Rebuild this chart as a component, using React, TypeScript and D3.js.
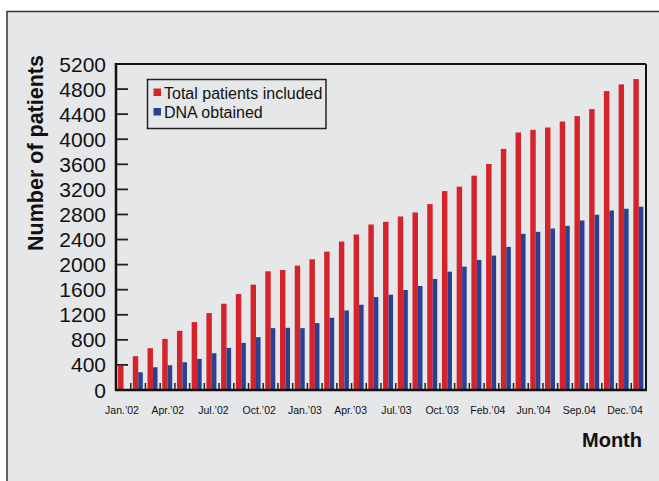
import React from "react";
import * as d3 from "d3";

const months: string[] = [
  "2002-01","2002-02","2002-03","2002-04","2002-05","2002-06","2002-07","2002-08","2002-09","2002-10","2002-11","2002-12",
  "2003-01","2003-02","2003-03","2003-04","2003-05","2003-06","2003-07","2003-08","2003-09","2003-10","2003-11","2003-12",
  "2004-01","2004-02","2004-03","2004-04","2004-05","2004-06","2004-07","2004-08","2004-09","2004-10","2004-11","2004-12",
];

const totalPatients: number[] = [
  384, 539, 667, 816, 944, 1083, 1227, 1376, 1531, 1680, 1893, 1915,
  1984, 2085, 2208, 2368, 2480, 2640, 2683, 2768, 2832, 2965, 3173, 3243,
  3419, 3605, 3845, 4107, 4149, 4187, 4283, 4368, 4480, 4768, 4875, 4960,
];

const dnaObtained: number[] = [
  0, 283, 363, 395, 443, 496, 587, 672, 752, 843, 987, 992,
  987, 1067, 1152, 1269, 1360, 1483, 1520, 1595, 1659, 1771, 1888, 1968,
  2075, 2144, 2283, 2491, 2523, 2576, 2619, 2704, 2795, 2864, 2891, 2923,
];

const xTickLabels: string[] = [
  "Jan.\u201902", "Apr.\u201902", "Jul.\u201902", "Oct.\u201902", "Jan.\u201903", "Apr.\u201903",
  "Jul.\u201903", "Oct.\u201903", "Feb.\u201904", "Jun.\u201904", "Sep.04", "Dec.\u201904",
];

const yTicks: number[] = d3.range(0, 5201, 400);

const seriesNames: string[] = ["Total patients included", "DNA obtained"];

const RED = "#d4232b";
const BLUE = "#2b4190";

export default function App() {
  const W = 659, H = 481;
  const left = 116, right = 646, top = 64, bottom = 390;

  const x = d3.scaleBand<string>().domain(months).range([left, right]).paddingInner(0).paddingOuter(0);
  const y = d3.scaleLinear().domain([0, 5200]).range([bottom, top]);
  const bw = x.bandwidth();
  const labelX = d3.scalePoint<string>().domain(xTickLabels).range([122, 625]);

  return (
    <svg width={W} height={H} style={{ position: "absolute", left: 0, top: 0 }} fontFamily="'Liberation Sans', Arial, sans-serif">
      <rect x={0} y={0} width={W} height={H} fill="#ffffff" />
      <rect x={7} y={11.5} width={W + 20} height={H + 20} fill="#e6e7e9" stroke="#333" strokeWidth={1.5} />

      {/* bars */}
      {months.map((m, i) => {
        const x0 = x(m) as number;
        return (
          <g key={m}>
            {totalPatients[i] > 0 && (
              <rect x={x0 + bw * 0.14} width={bw * 0.37} y={y(totalPatients[i])} height={y(0) - y(totalPatients[i])} fill={RED} />
            )}
            {dnaObtained[i] > 0 && (
              <rect x={x0 + bw * 0.51} width={bw * 0.31} y={y(dnaObtained[i])} height={y(0) - y(dnaObtained[i])} fill={BLUE} />
            )}
          </g>
        );
      })}

      {/* x ticks between groups */}
      {months.slice(1).map((m) => {
        const xx = x(m) as number;
        return <line key={m} x1={xx} x2={xx} y1={bottom} y2={bottom - 7} stroke="#222" strokeWidth={1.5} />;
      })}

      {/* y ticks inward */}
      {yTicks.filter((t) => t > 0 && t < 5200).map((t) => (
        <line key={t} x1={left} x2={left + 12} y1={y(t)} y2={y(t)} stroke="#222" strokeWidth={1.8} />
      ))}

      {/* frame */}
      <line x1={left} x2={right} y1={top} y2={top} stroke="#111" strokeWidth={2} />
      <line x1={right} x2={right} y1={top} y2={bottom} stroke="#111" strokeWidth={2} />
      <line x1={left} x2={left} y1={top - 1} y2={bottom + 1} stroke="#111" strokeWidth={2.5} />
      <line x1={left - 1} x2={right + 1} y1={bottom} y2={bottom} stroke="#111" strokeWidth={2.5} />

      {/* y tick labels */}
      {yTicks.map((t) => (
        <text key={t} x={106} y={y(t)} dy="0.36em" textAnchor="end" fontSize={21} fill="#111">
          {t}
        </text>
      ))}

      {/* x tick labels */}
      {xTickLabels.map((l) => (
        <text key={l} x={labelX(l)} y={414} textAnchor="middle" fontSize={10.5} fill="#111">
          {l}
        </text>
      ))}

      {/* axis titles */}
      <text x={642} y={447} textAnchor="end" fontSize={20} fontWeight="bold" fill="#111">Month</text>
      <text transform="translate(43,153) rotate(-90)" textAnchor="middle" fontSize={21.5} fontWeight="bold" fill="#111">
        Number of patients
      </text>

      {/* legend */}
      <rect x={147.5} y={79.5} width={178.5} height={49} fill="#e6e7e9" stroke="#222" strokeWidth={1.5} />
      {seriesNames.map((s, i) => (
        <g key={s}>
          <rect x={153.5} y={88.5 + i * 19.5} width={7.5} height={7.5} fill={i === 0 ? RED : BLUE} />
          <text x={164} y={98.5 + i * 19} fontSize={16} fill="#111">{s}</text>
        </g>
      ))}
    </svg>
  );
}
